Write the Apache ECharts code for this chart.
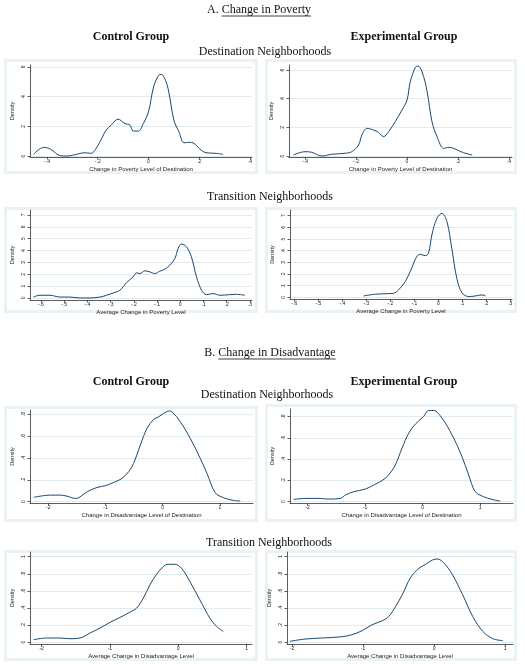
<!DOCTYPE html>
<html><head><meta charset="utf-8">
<script src="https://cdn.jsdelivr.net/npm/echarts@6/dist/echarts.min.js"></script>
<style>html,body{margin:0;padding:0;background:#fff}#c{width:525px;height:664px}</style>
</head><body><div id="c"></div>
<script>
// ---------- DATA ----------
// A. Change in Poverty — Destination neighborhoods
const povDestCtrlX = [-0.453,-0.413,-0.387,-0.347,-0.32,-0.28,-0.253,-0.227,-0.2,-0.167,-0.147,-0.12,-0.093,-0.073,-0.06,-0.04,-0.02,0.0,0.02,0.04,0.05,0.067,0.08,0.1,0.12,0.14,0.16,0.18,0.2,0.227,0.267,0.293];
const povDestCtrlY = [0.11,0.58,0.47,0.02,0.0,0.13,0.22,0.18,0.69,1.74,2.08,2.48,2.19,2.08,1.68,1.68,2.19,2.98,4.65,5.44,5.5,5.1,4.32,2.42,1.63,0.89,0.92,0.85,0.51,0.22,0.18,0.11];
const povDestExpX = [-0.446,-0.4,-0.374,-0.335,-0.295,-0.243,-0.217,-0.19,-0.177,-0.157,-0.131,-0.112,-0.092,-0.072,-0.046,-0.02,0.0,0.013,0.033,0.043,0.059,0.079,0.098,0.118,0.144,0.164,0.184,0.217,0.256];
const povDestExpY = [0.07,0.3,0.26,0.0,0.12,0.19,0.3,0.77,1.47,1.93,1.81,1.65,1.35,1.7,2.4,3.2,3.9,5.19,6.19,6.28,5.88,4.49,2.4,1.35,0.53,0.6,0.53,0.26,0.07];
// A. Change in Poverty — Transition neighborhoods
const povTransCtrlX = [-0.633,-0.604,-0.561,-0.518,-0.475,-0.432,-0.389,-0.346,-0.317,-0.289,-0.26,-0.231,-0.203,-0.188,-0.174,-0.152,-0.131,-0.109,-0.088,-0.066,-0.045,-0.023,-0.009,0.005,0.027,0.048,0.07,0.092,0.113,0.142,0.17,0.213,0.242,0.278];
const povTransCtrlY = [0.08,0.23,0.23,0.08,0.08,0.0,0.0,0.08,0.23,0.42,0.65,1.3,1.78,2.12,2.06,2.29,2.2,2.06,2.26,2.43,2.77,3.33,4.18,4.55,4.32,3.47,1.78,0.65,0.28,0.37,0.23,0.28,0.31,0.23];
const povTransExpX = [-0.312,-0.263,-0.208,-0.187,-0.166,-0.138,-0.11,-0.09,-0.076,-0.055,-0.041,-0.027,-0.006,0.015,0.036,0.056,0.077,0.098,0.126,0.154,0.182,0.196];
const povTransExpY = [0.11,0.26,0.31,0.34,0.63,1.34,2.54,3.49,3.69,3.57,3.77,5.34,6.77,7.2,6.49,4.2,1.63,0.4,0.06,0.11,0.2,0.14];
// B. Change in Disadvantage — Destination neighborhoods
const disDestCtrlX = [-2.254,-1.963,-1.788,-1.671,-1.526,-1.468,-1.322,-1.147,-1.002,-0.856,-0.711,-0.594,-0.507,-0.39,-0.274,-0.157,-0.07,0.017,0.105,0.163,0.309,0.483,0.658,0.775,0.92,1.066,1.24,1.357];
const disDestCtrlY = [0.04,0.06,0.06,0.05,0.03,0.036,0.09,0.13,0.146,0.176,0.213,0.274,0.35,0.517,0.669,0.751,0.775,0.805,0.827,0.82,0.729,0.578,0.395,0.258,0.082,0.036,0.012,0.006];
const disDestExpX = [-2.241,-2.038,-1.807,-1.633,-1.43,-1.343,-1.199,-0.996,-0.851,-0.706,-0.591,-0.475,-0.359,-0.243,-0.127,0.017,0.104,0.191,0.336,0.51,0.683,0.799,0.915,1.06,1.204,1.349];
const disDestExpY = [0.022,0.031,0.031,0.025,0.031,0.063,0.094,0.119,0.157,0.198,0.251,0.345,0.502,0.643,0.728,0.8,0.856,0.856,0.784,0.627,0.424,0.251,0.094,0.047,0.022,0.006];
// B. Change in Disadvantage — Transition neighborhoods
const disTransCtrlX = [-2.122,-1.927,-1.732,-1.585,-1.439,-1.293,-1.146,-1.0,-0.854,-0.707,-0.61,-0.512,-0.415,-0.317,-0.22,-0.146,-0.049,0.049,0.171,0.317,0.463,0.561,0.659];
const disTransCtrlY = [0.027,0.047,0.047,0.039,0.047,0.105,0.163,0.23,0.288,0.35,0.397,0.514,0.669,0.794,0.883,0.911,0.911,0.864,0.708,0.494,0.28,0.183,0.125];
const disTransExpX = [-2.031,-1.819,-1.582,-1.299,-1.157,-1.016,-0.874,-0.732,-0.638,-0.543,-0.449,-0.331,-0.213,-0.118,-0.024,0.047,0.142,0.26,0.402,0.543,0.685,0.827,0.968];
const disTransExpY = [0.008,0.035,0.047,0.062,0.086,0.132,0.202,0.249,0.3,0.416,0.553,0.755,0.864,0.911,0.961,0.973,0.922,0.786,0.553,0.3,0.125,0.039,0.016];

// Tick values
const povDestXTicks = [-0.4,-0.2,0,0.2,0.4];
const povDestYTicks = [0,2,4,6];
const povTransXTicks = [-0.6,-0.5,-0.4,-0.3,-0.2,-0.1,0,0.1,0.2,0.3];
const povTransYTicks = [0,1,2,3,4,5,6,7];
const disDestXTicks = [-2,-1,0,1];
const disDestYTicks = [0,0.2,0.4,0.6,0.8];
const disTransXTicks = [-2,-1,0,1];
const disTransYTicks = [0,0.2,0.4,0.6,0.8,1];

// Axis titles
const xTitlePovDest = 'Change in Poverty Level of Destination';
const xTitlePovTrans = 'Average Change in Poverty Level';
const xTitleDisDest = 'Change in Disadvantage Level of Destination';
const xTitleDisTrans = 'Average Change in Disadvantage Level';

// ---------- LAYOUT ----------
const panels = [
  {x:povDestCtrlX, y:povDestCtrlY, xt:povDestXTicks, yt:povDestYTicks, name:xTitlePovDest, L:30, R:252, T:65, B:157, xmin:-0.467, xmax:0.408, ymin:-0.067, ymax:6.13, box:[4,59,258,174]},
  {x:povDestExpX, y:povDestExpY, xt:povDestXTicks, yt:povDestYTicks, name:xTitlePovDest, L:289, R:512, T:65, B:157, xmin:-0.463, xmax:0.412, ymin:-0.07, ymax:6.35, box:[265,59,517,174]},
  {x:povTransCtrlX, y:povTransCtrlY, xt:povTransXTicks, yt:povTransYTicks, name:xTitlePovTrans, L:30, R:252, T:210, B:300, xmin:-0.647, xmax:0.309, ymin:-0.17, ymax:7.42, box:[4,207,258,313]},
  {x:povTransExpX, y:povTransExpY, xt:povTransXTicks, yt:povTransYTicks, name:xTitlePovTrans, L:290, R:512, T:210, B:299, xmin:-0.618, xmax:0.307, ymin:-0.15, ymax:7.49, box:[265,207,517,313]},
  {x:disDestCtrlX, y:disDestCtrlY, xt:disDestXTicks, yt:disDestYTicks, name:xTitleDisDest, L:30, R:253, T:410, B:503, xmin:-2.32, xmax:1.58, ymin:-0.012, ymax:0.837, box:[4,406,258,522]},
  {x:disDestExpX, y:disDestExpY, xt:disDestXTicks, yt:disDestYTicks, name:xTitleDisDest, L:290, R:513, T:409, B:503, xmin:-2.306, xmax:1.57, ymin:-0.012, ymax:0.87, box:[265,404,517,522]},
  {x:disTransCtrlX, y:disTransCtrlY, xt:disTransXTicks, yt:disTransYTicks, name:xTitleDisTrans, L:30, R:252, T:552, B:644, xmin:-2.17, xmax:1.08, ymin:-0.023, ymax:1.055, box:[4,550,258,661]},
  {x:disTransExpX, y:disTransExpY, xt:disTransXTicks, yt:disTransYTicks, name:xTitleDisTrans, L:287, R:513, T:552, B:644, xmin:-2.07, xmax:1.11, ymin:-0.023, ymax:1.055, box:[265,550,517,661]}
];

const fmt = v => { if (Math.abs(v) < 1e-9) return '0'; const s = String(+(+v).toFixed(3)); return s.replace(/^(-?)0\./, '$1.'); };
const SANS = '"Liberation Sans", Arial, sans-serif';
const SERIF = '"Liberation Serif", "Times New Roman", serif';
const LINE = '#1a476f', AX = '#333', TXT = '#222';

const grids = [], xAxes = [], yAxes = [], series = [], graphics = [];
panels.forEach((p, i) => {
  grids.push({left:p.L, top:p.T, width:p.R - p.L, height:p.B - p.T, containLabel:false});
  xAxes.push({
    gridIndex:i, type:'value', min:p.xmin, max:p.xmax,
    axisLine:{show:true, onZero:false, lineStyle:{color:AX, width:0.8}},
    axisTick:{show:true, length:2.5, customValues:p.xt, lineStyle:{color:AX, width:0.8}},
    axisLabel:{customValues:p.xt, formatter:fmt, fontSize:5, margin:2.5, color:TXT, fontFamily:SANS},
    splitLine:{show:false},
    name:p.name, nameLocation:'middle', nameGap:9.5,
    nameTextStyle:{fontSize:6, color:TXT, fontFamily:SANS}
  });
  yAxes.push({
    gridIndex:i, type:'value', min:p.ymin, max:p.ymax,
    axisLine:{show:true, onZero:false, lineStyle:{color:AX, width:0.8}},
    axisTick:{show:true, length:2.5, customValues:p.yt, lineStyle:{color:AX, width:0.8}},
    axisLabel:{customValues:p.yt, formatter:fmt, fontSize:5, margin:4, rotate:90, color:TXT, fontFamily:SANS},
    splitLine:{show:true, lineStyle:{color:'#e3eaec', width:1}},
    name:'Density', nameLocation:'middle', nameGap:15, nameRotate:90,
    nameTextStyle:{fontSize:5.5, color:TXT, fontFamily:SANS}
  });
  series.push({
    type:'line', xAxisIndex:i, yAxisIndex:i, showSymbol:false, smooth:0.35,
    lineStyle:{color:LINE, width:1}, data:p.x.map((v, k) => [v, p.y[k]]), silent:true
  });
  const b = p.box;
  graphics.push({type:'rect', z:-20, silent:true, shape:{x:b[0], y:b[1], width:b[2]-b[0], height:b[3]-b[1]}, style:{fill:'#eaf2f3'}});
  graphics.push({type:'rect', z:-19, silent:true, shape:{x:b[0]+3, y:b[1]+3, width:b[2]-b[0]-6, height:b[3]-b[1]-6}, style:{fill:'#ffffff'}});
});

// Headings
const meas = document.createElement('canvas').getContext('2d');
function heading(prefix, under, cx, cy) {
  meas.font = '12px ' + SERIF;
  const full = prefix + under;
  const w = meas.measureText(full).width, wp = meas.measureText(prefix).width;
  const x0 = cx - w / 2;
  graphics.push({type:'text', silent:true, style:{text:full, x:x0, y:cy, font:'12px ' + SERIF, fill:'#111', textVerticalAlign:'middle', textAlign:'left'}});
  graphics.push({type:'line', silent:true, shape:{x1:x0 + wp, y1:cy + 6, x2:x0 + w, y2:cy + 6}, style:{stroke:'#111', lineWidth:0.8}});
}
function label(t, cx, cy, bold) {
  graphics.push({type:'text', silent:true, style:{text:t, x:cx, y:cy, font:(bold ? 'bold ' : '') + '12px ' + SERIF, fill:'#111', textAlign:'center', textVerticalAlign:'middle'}});
}
heading('A. ', 'Change in Poverty', 259, 10);
label('Control Group', 131, 37, true);
label('Experimental Group', 404, 37, true);
label('Destination Neighborhoods', 265, 52, false);
label('Transition Neighborhoods', 270, 197, false);
heading('B. ', 'Change in Disadvantage', 270, 353);
label('Control Group', 131, 382, true);
label('Experimental Group', 404, 382, true);
label('Destination Neighborhoods', 267, 395, false);
label('Transition Neighborhoods', 269, 543, false);

const chart = echarts.init(document.getElementById('c'), null, {renderer:'canvas'});
chart.setOption({
  animation:false,
  backgroundColor:'#ffffff',
  grid:grids, xAxis:xAxes, yAxis:yAxes, series:series,
  graphic:{elements:graphics}
});
</script>
</body></html>
